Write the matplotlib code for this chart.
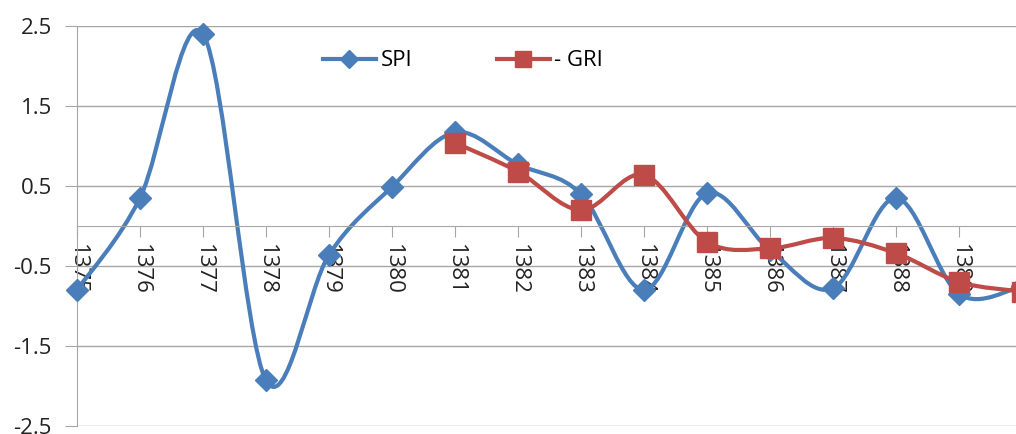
import matplotlib

matplotlib.use("Agg")
import matplotlib.pyplot as plt
import numpy as np
from matplotlib.lines import Line2D
from matplotlib.patches import PathPatch
from matplotlib.path import Path

plt.rcParams["font.family"] = ["Open Sans", "DejaVu Sans"]

# values
years = list(range(1375, 1391))
spi = [-0.80, 0.35, 2.40, -1.93, -0.36, 0.49, 1.17, 0.77, 0.40, -0.80,
       0.41, -0.30, -0.78, 0.35, -0.85, -0.75]
gri_years = list(range(1381, 1391))
gri = [1.04, 0.68, 0.20, 0.64, -0.20, -0.28, -0.15, -0.34, -0.70, -0.82]
yticks = [-2.5, -1.5, -0.5, 0.5, 1.5, 2.5]

BLUE = "#4A7EBB"
RED = "#BE4B48"
GRID = "#A6A6A6"


def smooth_path(xs, ys):
    # excel-style smoothed line: cubic bezier, catmull-rom tangents
    pts = np.column_stack([xs, ys]).astype(float)
    verts = [pts[0]]
    codes = [Path.MOVETO]
    n = len(pts)
    for i in range(n - 1):
        p0 = pts[max(i - 1, 0)]
        p1 = pts[i]
        p2 = pts[i + 1]
        p3 = pts[min(i + 2, n - 1)]
        verts += [p1 + (p2 - p0) / 6, p2 - (p3 - p1) / 6, p2]
        codes += [Path.CURVE4] * 3
    return Path(verts, codes)


fig = plt.figure(figsize=(10.16, 4.34), dpi=100)
ax = fig.add_axes([77 / 1016, 8 / 434, (1022 - 77) / 1016, 400 / 434])
ax.set_xlim(1375, 1390)
ax.set_ylim(-2.5, 2.5)

for y in yticks:
    ax.axhline(y, color=GRID, lw=1.0, zorder=0)

ax.add_patch(PathPatch(smooth_path(years, spi), fill=False, edgecolor=BLUE,
                       lw=3.0, capstyle="round", zorder=2, clip_on=False))
ax.plot(years, spi, ls="none", marker="D", ms=11, color=BLUE, zorder=3,
        clip_on=False)
ax.add_patch(PathPatch(smooth_path(gri_years, gri), fill=False, edgecolor=RED,
                       lw=3.0, capstyle="round", zorder=4, clip_on=False))
ax.plot(gri_years, gri, ls="none", marker="s", ms=14, color=RED, zorder=5,
        clip_on=False)

for s in ["top", "right"]:
    ax.spines[s].set_visible(False)
ax.spines["left"].set_color(GRID)
ax.spines["bottom"].set_color(GRID)
ax.spines["bottom"].set_position(("data", 0))

ax.set_yticks(yticks)
ax.set_yticklabels([f"{v:.1f}" for v in yticks])
ax.set_xticks(years)
# the last category sits past the right edge, its label is not shown
ax.set_xticklabels([str(y) for y in years[:-1]] + [""], rotation=-90)
ax.tick_params(axis="y", length=9, color=GRID, pad=9, labelsize=16,
               labelcolor="#222222")
ax.tick_params(axis="x", length=8, color=GRID, pad=5, labelsize=16,
               labelcolor="#222222", direction="out")

handles = [
    Line2D([], [], color=BLUE, lw=3.0, marker="D", ms=9),
    Line2D([], [], color=RED, lw=3.0, marker="s", ms=12),
]
fig.legend(handles, ["SPI", "- GRI"], loc="center",
           bbox_to_anchor=(463 / 1016, 1 - 61 / 434), ncol=2, frameon=False,
           fontsize=16, handlelength=2.4, handletextpad=0.2,
           columnspacing=3.8)

fig.savefig("out.png", dpi=100, facecolor="white")
